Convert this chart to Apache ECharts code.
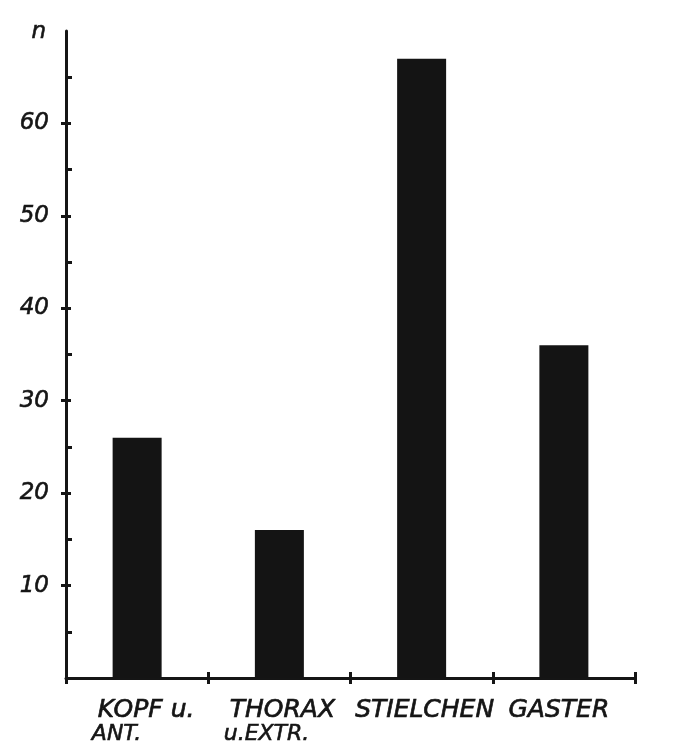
<!DOCTYPE html>
<html>
<head>
<meta charset="utf-8">
<script src="https://cdn.jsdelivr.net/npm/echarts@6/dist/echarts.min.js"></script>
<style>
html,body{margin:0;padding:0;background:#fff;}
#chart{width:700px;height:742px;}
</style>
</head>
<body>
<div id="chart"></div>
<script>
var categories = ['KOPF u.\nANT.', 'THORAX\nu.EXTR.', 'STIELCHEN', 'GASTER'];
var counts = [26, 16, 67, 36];
var yTickLabels = [10, 20, 30, 40, 50, 60];
var yMinorTicks = [5, 15, 25, 35, 45, 55, 65];
var yMax = 70;

var ink = '#151515';
var font = 'DejaVu Sans';

function labelFormatter(v) {
  var parts = v.split('\n');
  if (parts.length === 1) return '{a|' + parts[0] + '}';
  return '{a|' + parts[0] + '}\n{b|' + parts[1] + '}';
}

var richStyle = {
  a: { fontFamily: font, fontStyle: 'italic', fontSize: 25, color: ink, textBorderColor: ink, textBorderWidth: 0.7, align: 'left', lineHeight: 23, padding: [0, 0, 0, 6] },
  b: { fontFamily: font, fontStyle: 'italic', fontSize: 22, color: ink, textBorderColor: ink, textBorderWidth: 0.6, align: 'left', lineHeight: 24 }
};

// per-category label placement tweaks (built from categories)
var labelShift = [[0, 0, 0, 12], [0, 0, 0, 0], [0, 0, 0, 0], [0, 16, 0, 0]];
var xData = categories.map(function (c, i) {
  return { value: c, textStyle: { padding: labelShift[i] } };
});

var option = {
  backgroundColor: '#ffffff',
  animation: false,
  grid: { left: 66, right: 65, top: 31, bottom: 64, containLabel: false, outerBoundsMode: 'none' },
  xAxis: [
    {
      type: 'category',
      data: xData,
      boundaryGap: true,
      axisLine: { show: true, lineStyle: { color: ink, width: 3 } },
      axisTick: { show: true, length: 6, inside: false, lineStyle: { color: ink, width: 3 } },
      axisLabel: { margin: 21, formatter: labelFormatter, rich: richStyle, interval: 0 },
      splitLine: { show: false }
    },
    {
      type: 'category',
      data: categories,
      position: 'bottom',
      boundaryGap: true,
      axisLine: { show: false },
      axisTick: { show: true, length: 6, inside: true, lineStyle: { color: ink, width: 3 } },
      axisLabel: { show: false },
      splitLine: { show: false }
    }
  ],
  yAxis: [
    {
      type: 'value',
      min: 0,
      max: yMax,
      interval: 10,
      name: 'n',
      nameLocation: 'end',
      nameGap: -1,
      nameTextStyle: { fontFamily: font, fontStyle: 'italic', fontSize: 23, color: ink, textBorderColor: ink, textBorderWidth: 0.6, align: 'right', verticalAlign: 'middle', padding: [0, 20, 0, 0] },
      axisLine: { show: true, lineStyle: { color: ink, width: 3 } },
      axisTick: { show: true, inside: true, length: 5, customValues: yTickLabels, lineStyle: { color: ink, width: 3 } },
      axisLabel: { show: true, margin: 17, customValues: yTickLabels, fontFamily: font, fontStyle: 'italic', fontSize: 23, color: ink, textBorderColor: ink, textBorderWidth: 0.6 },
      splitLine: { show: false }
    },
    {
      type: 'value',
      min: 0,
      max: yMax,
      interval: 10,
      position: 'left',
      axisLine: { show: false },
      axisTick: { show: true, inside: false, length: 5, customValues: yTickLabels, lineStyle: { color: ink, width: 3 } },
      axisLabel: { show: false },
      splitLine: { show: false }
    },
    {
      type: 'value',
      min: 0,
      max: yMax,
      interval: 10,
      position: 'left',
      axisLine: { show: false },
      axisTick: { show: true, inside: true, length: 6, customValues: yMinorTicks, lineStyle: { color: ink, width: 3 } },
      axisLabel: { show: false },
      splitLine: { show: false }
    }
  ],
  series: [
    {
      type: 'bar',
      data: counts,
      xAxisIndex: 0,
      yAxisIndex: 0,
      barWidth: 49,
      itemStyle: { color: '#141414' },
      z: 1
    }
  ]
};

var chart = echarts.init(document.getElementById('chart'), null, { renderer: 'canvas' });
chart.setOption(option);
</script>
</body>
</html>
